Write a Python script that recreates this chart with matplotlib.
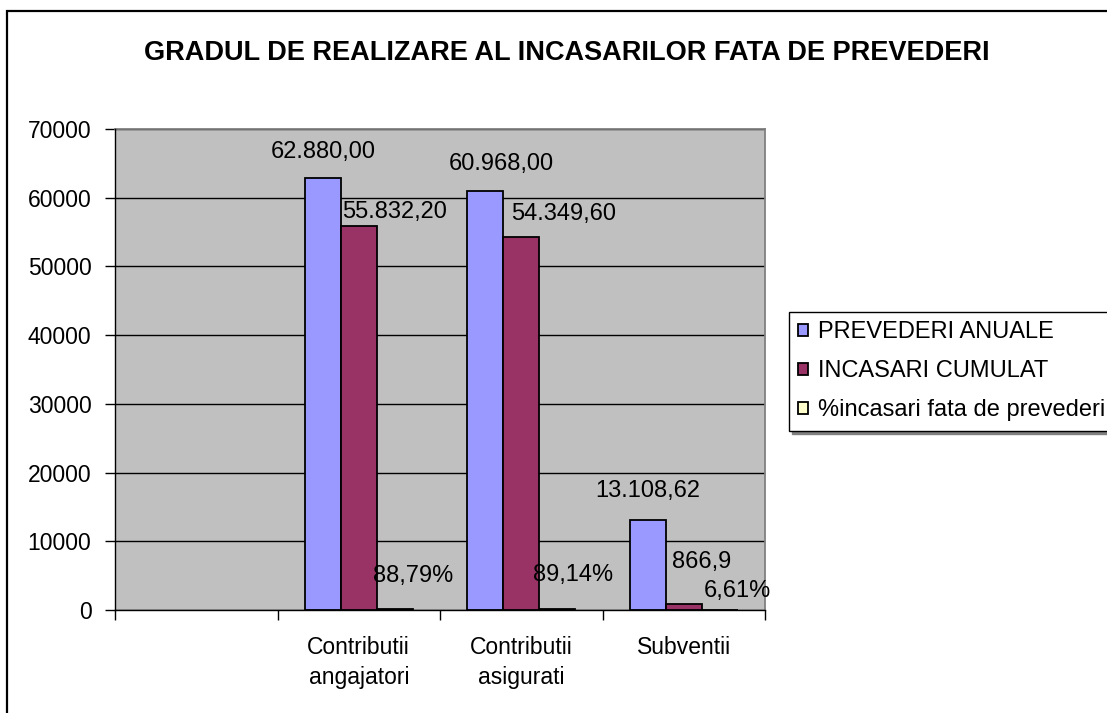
import numpy as np
import matplotlib.pyplot as plt
from matplotlib.patches import Rectangle
from matplotlib.ticker import FixedLocator, NullFormatter

plt.rcParams['font.family'] = ['Liberation Sans', 'DejaVu Sans']

# date
categorii = ["", "Contributii\nangajatori", "Contributii\nasigurati", "Subventii"]
prevederi = [np.nan, 62880.00, 60968.00, 13108.62]
incasari = [np.nan, 55832.20, 54349.60, 866.9]
procent = [np.nan, 88.79, 89.14, 6.61]
etichete_prev = ["", "62.880,00", "60.968,00", "13.108,62"]
etichete_inc = ["", "55.832,20", "54.349,60", "866,9"]
etichete_proc = ["", "88,79%", "89,14%", "6,61%"]

serii = ["PREVEDERI ANUALE", "INCASARI CUMULAT", "%incasari fata de prevederi"]
culori = ["#9999FF", "#993366", "#FFFFCC"]

# deplasari etichete (pixeli) fata de varful barei
dx = [[0, 0, 16, 0], [0, 36, 42, 18], [0, 18, 16, 18]]
dy = [[0, 15, 16, 18], [0, 3, 12, 31], [0, 22, 23, 8]]

W, H = 1107, 713
fig = plt.figure(figsize=(W / 100, H / 100), dpi=100)
fig.patches.append(Rectangle((7 / W, -0.1), 1.2, 1 - 11 / H + 0.1, transform=fig.transFigure,
                             fill=False, edgecolor="black", linewidth=1.6))

ax = fig.add_axes([115 / W, 103 / H, 650 / W, 481 / H])
ax.set_facecolor("#C0C0C0")

x = np.arange(len(categorii))
w = 36 / 162.5
valori = [prevederi, incasari, procent]
etichete = [etichete_prev, etichete_inc, etichete_proc]
for k in range(3):
    pos = x + (k - 1) * w
    ax.bar(pos, valori[k], width=w, color=culori[k], edgecolor="black", linewidth=1.3,
           label=serii[k], zorder=3 if k < 2 else 1.5)
    for i in range(len(categorii)):
        if etichete[k][i] == "":
            continue
        ax.annotate(etichete[k][i], (pos[i], valori[k][i]), xytext=(dx[k][i], dy[k][i]),
                    textcoords="offset pixels", ha="center", va="bottom", fontsize=17,
                    zorder=4)

ax.set_xlim(-0.5, len(categorii) - 0.5)
ax.set_ylim(0, 70000)
ax.set_yticks(np.arange(0, 70001, 10000))
ax.yaxis.grid(True, color="black", linewidth=1)
ax.set_axisbelow(True)

ax.xaxis.set_major_locator(FixedLocator(np.arange(-0.5, len(categorii), 1)))
ax.xaxis.set_major_formatter(NullFormatter())
ax.set_xticks(x, minor=True)
ax.set_xticklabels(categorii, minor=True, fontsize=16.5, linespacing=1.35)
ax.tick_params(axis="x", which="minor", length=0, pad=19)
ax.tick_params(axis="x", which="major", length=7, width=1, direction="out")
ax.tick_params(axis="y", length=7, width=1, pad=10, labelsize=16.5)

for s in ["top", "right"]:
    ax.spines[s].set_color("#808080")
    ax.spines[s].set_linewidth(1.3)
for s in ["left", "bottom"]:
    ax.spines[s].set_color("black")
    ax.spines[s].set_linewidth(1)
    ax.spines[s].set_zorder(3.5)

fig.text(567 / W, 1 - 53 / H, "GRADUL DE REALIZARE AL INCASARILOR FATA DE PREVEDERI",
         ha="center", va="center", fontsize=19.5, fontweight="bold")

leg = fig.legend(loc="upper left", bbox_to_anchor=(789 / W, 1 - 312 / H),
                 bbox_transform=fig.transFigure, borderaxespad=0, fontsize=17,
                 handlelength=0.42, handleheight=0.42, handletextpad=0.4,
                 labelspacing=0.72, borderpad=0.4, fancybox=False, frameon=True,
                 shadow={"color": "#808080", "alpha": 1})
leg.get_frame().set_edgecolor("black")
leg.get_frame().set_linewidth(1)

fig.savefig("out.png", dpi=100)
